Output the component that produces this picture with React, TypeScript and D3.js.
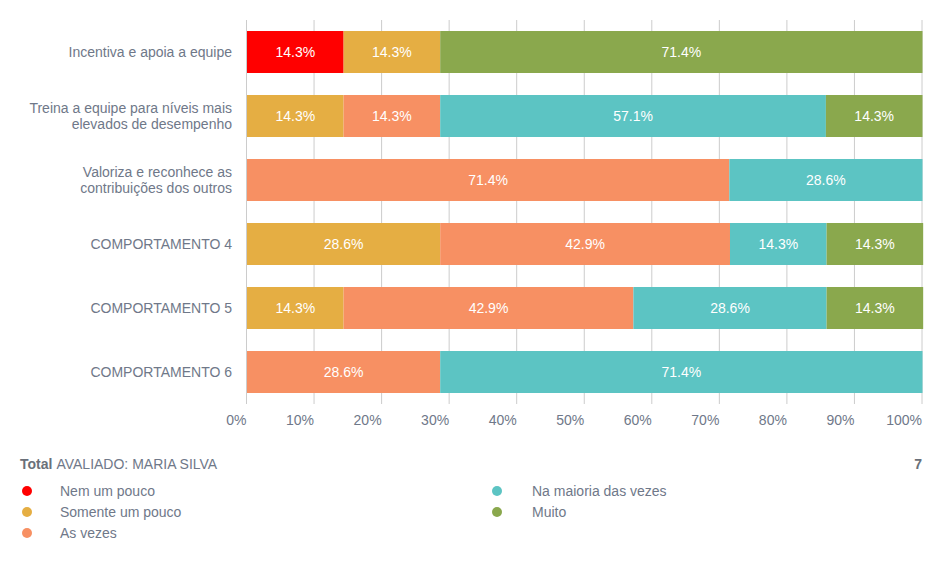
import React from "react";
import * as d3 from "d3";

const categories: string[][] = [
  ["Incentiva e apoia a equipe"],
  ["Treina a equipe para níveis mais", "elevados de desempenho"],
  ["Valoriza e reconhece as", "contribuições dos outros"],
  ["COMPORTAMENTO 4"],
  ["COMPORTAMENTO 5"],
  ["COMPORTAMENTO 6"],
];

const seriesNames = ["Nem um pouco", "Somente um pouco", "As vezes", "Na maioria das vezes", "Muito"];
const seriesColors = ["#ff0000", "#e5ae43", "#f79063", "#5cc4c3", "#8aa84d"];

const nemUmPouco = [14.3, 0, 0, 0, 0, 0];
const somenteUmPouco = [14.3, 14.3, 0, 28.6, 14.3, 0];
const asVezes = [0, 14.3, 71.4, 42.9, 42.9, 28.6];
const naMaioria = [0, 57.1, 28.6, 14.3, 28.6, 71.4];
const muito = [71.4, 14.3, 0, 14.3, 14.3, 0];

const seriesValues = [nemUmPouco, somenteUmPouco, asVezes, naMaioria, muito];
const xTicks = [0, 10, 20, 30, 40, 50, 60, 70, 80, 90, 100];

const totalLabel = "AVALIADO: MARIA SILVA";
const totalValue = "7";

const W = 944;
const H = 562;
const FONT = "Arial, 'Liberation Sans', sans-serif";
const TEXT = "#6f7889";
const FS = 14;

export default function App() {
  const x = d3.scaleLinear().domain([0, 100]).range([246.5, 922]);
  const y = d3
    .scaleBand<number>()
    .domain(d3.range(categories.length))
    .range([20, 404])
    .paddingInner(0.344)
    .paddingOuter(0.172);

  const rows = categories.map((_, i) => {
    let acc = 0;
    return seriesValues.map((vals, s) => {
      const v = vals[i];
      const seg = { s, x0: acc, x1: acc + v, v };
      acc += v;
      return seg;
    }).filter((d) => d.v > 0);
  });

  return (
    <svg
      width={W}
      height={H}
      style={{ position: "absolute", left: 0, top: 0, background: "#fff" }}
      fontFamily={FONT}
    >
      {xTicks.map((t) => (
        <line key={t} x1={x(t)} x2={x(t)} y1={20} y2={404} stroke="#cccccc" strokeWidth={1} />
      ))}
      {rows.map((segs, i) =>
        segs.map((d) => (
          <g key={`${i}-${d.s}`}>
            <rect
              x={x(d.x0) + 0.5}
              y={y(i)!}
              width={x(d.x1) - x(d.x0)}
              height={y.bandwidth()}
              fill={seriesColors[d.s]}
            />
            <text
              x={(x(d.x0) + x(d.x1)) / 2 + 0.5}
              y={y(i)! + y.bandwidth() / 2}
              dy="0.35em"
              textAnchor="middle"
              fill="#ffffff"
              fontSize={FS}
            >
              {d.v.toFixed(1)}%
            </text>
          </g>
        ))
      )}
      {categories.map((lines, i) => {
        const cy = y(i)! + y.bandwidth() / 2;
        const start = cy - ((lines.length - 1) * 16) / 2;
        return (
          <text key={i} textAnchor="end" fill={TEXT} fontSize={FS}>
            {lines.map((l, k) => (
              <tspan key={k} x={232} y={start + k * 16} dy="0.35em">
                {l}
              </tspan>
            ))}
          </text>
        );
      })}
      {xTicks.map((t) => (
        <text key={t} x={x(t)} y={425} textAnchor="end" fill={TEXT} fontSize={FS}>
          {t}%
        </text>
      ))}
      <text x={20} y={469} fontSize={FS} fill={TEXT}>
        <tspan fontWeight="bold" fill="#6a7079">Total</tspan>
        <tspan dx={4}>{totalLabel}</tspan>
      </text>
      <text x={922} y={469} fontSize={FS} fill="#6a7079" fontWeight="bold" textAnchor="end">
        {totalValue}
      </text>
      {seriesNames.map((n, i) => {
        const col = i < 3 ? 0 : 1;
        const row = i < 3 ? i : i - 3;
        const cx = col === 0 ? 27 : 497;
        const tx = col === 0 ? 60 : 532;
        const cy = 491 + row * 21;
        return (
          <g key={n}>
            <circle cx={cx} cy={cy} r={5} fill={seriesColors[i]} />
            <text x={tx} y={cy} dy="0.35em" fontSize={FS} fill={TEXT}>
              {n}
            </text>
          </g>
        );
      })}
    </svg>
  );
}
